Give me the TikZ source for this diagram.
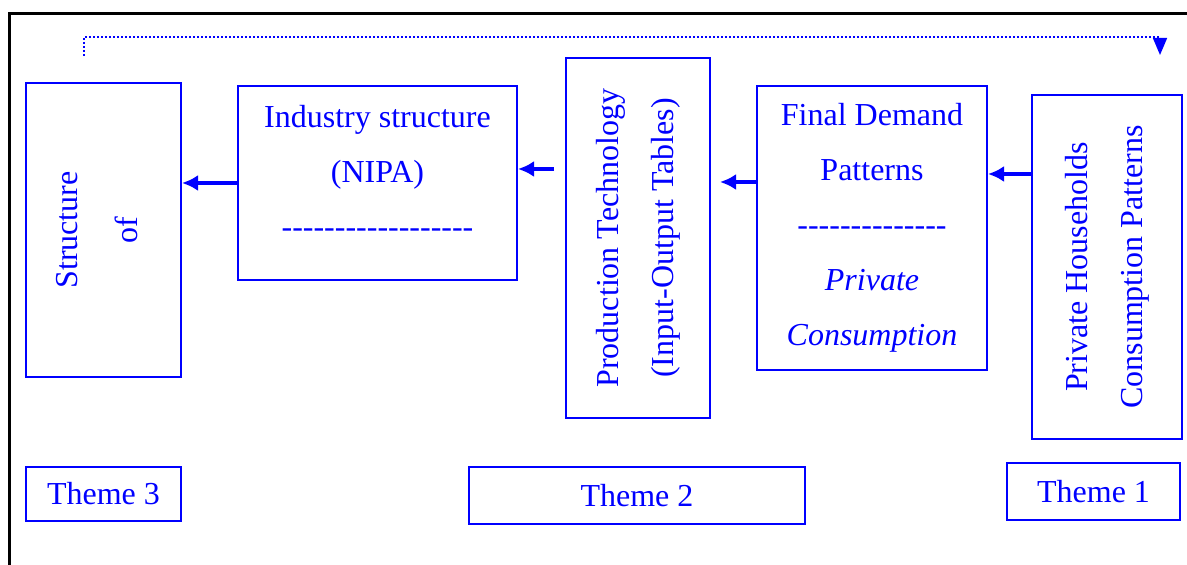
\documentclass[tikz,border=0pt]{standalone}
\usepackage{fontspec}
\setmainfont{Liberation Serif}
\usepackage{tikz}
\usetikzlibrary{arrows.meta}
\definecolor{myblue}{RGB}{0, 0, 255}
\newcommand*\boxfont{\fontsize{16}{27.5}\selectfont}
\newcommand*\dashrow[1]{\foreach \k in {1,...,#1}{-\kern0pt}}
\tikzstyle{block}=[draw=myblue,text=myblue,line width=1pt,inner sep=0pt,align=center,font=\boxfont]
\tikzstyle{theme}=[block,line width=1.2pt]
\tikzstyle{arr}=[-{Latex[length=8pt,width=8pt]},line width=2pt,myblue]
\tikzstyle{feedback}=[-{Triangle[length=8.5pt,width=7pt]},myblue,line width=0.8pt,dash pattern=on 0.8pt off 1.2pt]

\begin{document}
\begin{tikzpicture}[x=0.5pt,y=-0.5pt]
      \useasboundingbox (0,0) rectangle (1187,565);
      \draw[line width=1.5pt] (9,565) -- (9,14) -- (1187,14);
      % themes, right to left
      \node (A) [block,rotate=90,minimum width=172pt,minimum height=75pt] at (1107,267) {Private Households\\Consumption Patterns};
      \node (B) [block,minimum width=115pt,minimum height=142pt] at (872,228) {Final Demand\\Patterns\\\dashrow{14}\\\textit{Private}\\\textit{Consumption}};
      \node (C) [block,rotate=90,minimum width=180pt,minimum height=72pt] at (638,238) {Production Technology\\(Input-Output Tables)};
      \node (D) [block] at (377.5,183) {\parbox[c][97pt][t]{139.5pt}{\centering\vspace*{9.5pt}Industry structure\\(NIPA)\\\dashrow{18}}};
      \node (E) [block,rotate=90,font=\fontsize{16}{30}\selectfont] at (103.5,230) {\parbox[c][77.5pt][t]{147pt}{\centering\vspace*{15pt}Structure\\of}};
      \node (F) [theme,minimum width=86.5pt,minimum height=28.5pt] at (1093.5,491.5) {Theme 1};
      \node (G) [theme,minimum width=168pt,minimum height=28.5pt] at (637,495.5) {Theme 2};
      \node (H) [theme,minimum width=77.5pt,minimum height=27pt] at (103.5,494) {Theme 3};
      \draw[arr] (A.north |- 0,174) -- (B.east |- 0,174);
      \draw[arr,shorten >=4.5pt] (B.west |- 0,182) -- (C.south |- 0,182);
      \draw[arr,shorten <=5.5pt] (C.north |- 0,169) -- (D.east |- 0,169);
      \draw[arr] (D.west |- 0,183) -- (E.south |- 0,183);
      % feedback loop on top
      \coordinate (P) at (84,56);
      \coordinate (Q) at (1160,55);
      \draw[feedback] (P) -- ++(0,-19) -| (Q);
    \end{tikzpicture}
\end{document}
